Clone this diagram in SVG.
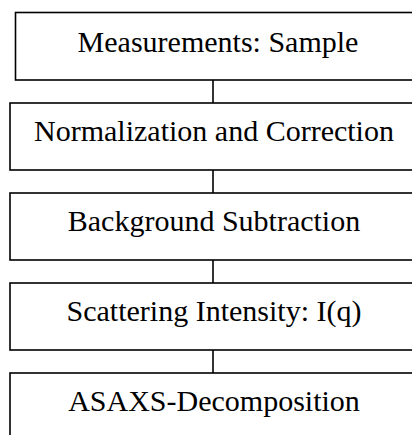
<svg xmlns="http://www.w3.org/2000/svg" width="412" height="435" viewBox="0 0 412 435">
<style>
.box{fill:#fff;stroke:#000;stroke-width:1.6}
.lbl{font-family:"Liberation Serif","Times New Roman",serif;font-size:30px;fill:#000;text-anchor:middle}
.conn{stroke:#000;stroke-width:1.6;fill:none}
</style>
<rect width="412" height="435" fill="#fff"/>
<g id="connectors">
<line class="conn" x1="213" y1="80" x2="213" y2="103"/>
<line class="conn" x1="213" y1="170" x2="213" y2="193"/>
<line class="conn" x1="213" y1="260" x2="213" y2="283"/>
<line class="conn" x1="213" y1="350" x2="213" y2="373"/>
</g>
<g id="n1"><rect class="box" x="15.5" y="12.5" width="410" height="67.5"/><text class="lbl" x="218" y="52">Measurements: Sample</text></g>
<g id="n2"><rect class="box" x="10" y="103" width="410" height="67"/><text class="lbl" x="214" y="141">Normalization and Correction</text></g>
<g id="n3"><rect class="box" x="10" y="193" width="410" height="67"/><text class="lbl" x="214" y="231">Background Subtraction</text></g>
<g id="n4"><rect class="box" x="10" y="283" width="410" height="67"/><text class="lbl" x="214" y="321">Scattering Intensity: I(q)</text></g>
<g id="n5"><rect class="box" x="10" y="373" width="410" height="80"/><text class="lbl" x="214" y="411">ASAXS-Decomposition</text></g>
</svg>
